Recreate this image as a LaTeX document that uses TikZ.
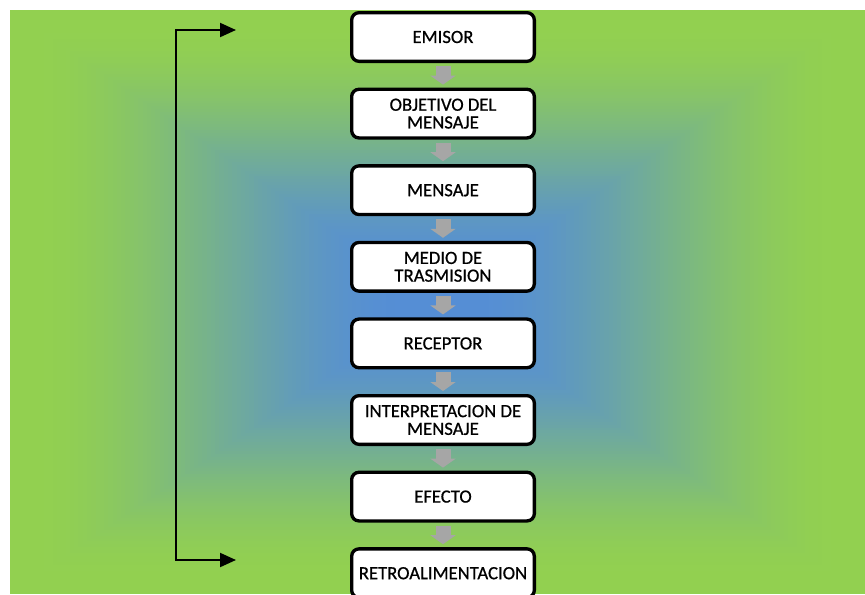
\documentclass[tikz,border=0pt]{standalone}
\usepackage{fontspec}
\setmainfont{Carlito}
\newfontfamily\stagefont{Carlito}[FakeBold=0.7]
\usetikzlibrary{arrows.meta,calc}
\definecolor{edgegreen}{RGB}{146,208,80}
\definecolor{coreblue}{RGB}{85,142,213}
\definecolor{flowgray}{RGB}{166,166,166}

\begin{document}
\begin{tikzpicture}[x=0.75pt,y=-0.75pt,
  stagebox/.style={draw=black, line width=2.5pt, fill=white, rounded corners=5.5pt,
    minimum width=137pt, minimum height=36.5pt, align=center, inner sep=0pt,
    font=\stagefont\fontsize{14}{13.3}\selectfont},
  flowarrow/.style={draw=flowgray, line width=11.25pt,
    -{Triangle[length=6.75pt,width=18.75pt]}, shorten <=2.25pt, shorten >=2.25pt},
  feedback/.style={draw=black, line width=1.5pt,
    {Triangle[length=12pt,width=10.5pt]}-{Triangle[length=12pt,width=10.5pt]}}]
\useasboundingbox (0,0) rectangle (865,594);
\fill[white] (0,0) rectangle (865,594);

% rectangular gradient: green rim easing (smoothstep) into a blue core
\foreach \i in {100,99,...,1} {
  \pgfmathsetmacro\t{\i/100}
  \pgfmathsetmacro\u{min(1,max(0,(\t-0.08)/0.87))}
  \pgfmathsetmacro\p{100*\u*\u*(3-2*\u)}
  \fill[edgegreen!\p!coreblue] ({437.5-427.5*\t},{302-292*\t}) rectangle ({437.5+427.5*\t},{302+292*\t});
}

% process stages
\node[stagebox] (s1) at (443,37)    {EMISOR};
\node[stagebox] (s2) at (443,113.6) {OBJETIVO DEL\\MENSAJE};
\node[stagebox] (s3) at (443,190.2) {MENSAJE};
\node[stagebox] (s4) at (443,266.8) {MEDIO DE\\TRASMISION};
\node[stagebox] (s5) at (443,343.4) {RECEPTOR};
\node[stagebox] (s6) at (443,420)   {INTERPRETACION DE\\MENSAJE};
\node[stagebox] (s7) at (443,496.6) {EFECTO};
\node[stagebox] (s8) at (443,573.2) {RETROALIMENTACION};

% block arrows between consecutive stages
\foreach \a/\b in {s1/s2,s2/s3,s3/s4,s4/s5,s5/s6,s6/s7,s7/s8}
  \draw[flowarrow] (\a.south) -- (\b.north);

% feedback bracket on the left
\coordinate (fbtop) at (236,30);
\coordinate (fbbot) at (236,560);
\draw[feedback] (fbtop) -- ++(-60,0) |- (fbbot);
\end{tikzpicture}
\end{document}
